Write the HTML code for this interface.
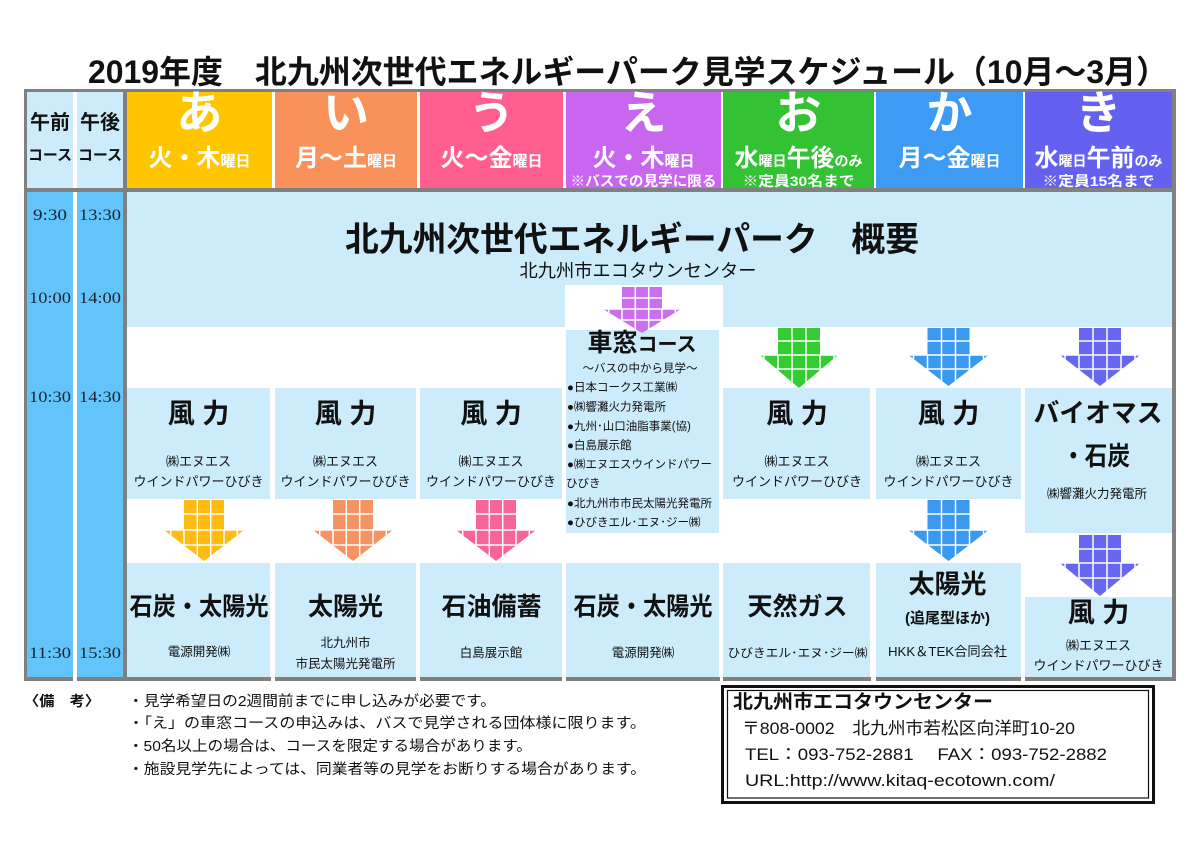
<!DOCTYPE html>
<html><head><meta charset="utf-8"><style>
html,body{margin:0;padding:0;background:#fff;}
svg{display:block;}
text{font-family:"Liberation Sans","Noto Sans CJK JP",sans-serif;fill:#111;}
.b{font-weight:bold;}
.w{fill:#fff;font-weight:bold;}
.t{font-family:"Liberation Serif","Noto Serif CJK SC",serif;font-size:16px;fill:#1a2230;}
</style></head><body>
<svg width="1200" height="842" viewBox="0 0 1200 842" xmlns="http://www.w3.org/2000/svg">
<rect width="1200" height="842" fill="#fff"/>
<!-- Title -->
<text x="88" y="83" font-size="32" class="b" textLength="1080" lengthAdjust="spacingAndGlyphs">2019年度　北九州次世代エネルギーパーク見学スケジュール（10月～3月）</text>

<!-- Frame -->
<rect x="24" y="89" width="1152" height="3" fill="#808080"/>
<rect x="24" y="89" width="3" height="592" fill="#808080"/>
<rect x="24" y="188" width="1152" height="4" fill="#808080"/>
<rect x="123" y="89" width="4" height="592" fill="#808080"/>
<rect x="1172" y="89" width="4" height="592" fill="#808080"/>
<g fill="#808080">
<rect x="24" y="677" width="49" height="4"/>
<rect x="77" y="677" width="50" height="4"/>
<rect x="127" y="677" width="144" height="4"/>
<rect x="275" y="677" width="141" height="4"/>
<rect x="420" y="677" width="142" height="4"/>
<rect x="566" y="677" width="154" height="4"/>
<rect x="723" y="677" width="148" height="4"/>
<rect x="876" y="677" width="145" height="4"/>
<rect x="1025" y="677" width="151" height="4"/>
</g>

<!-- Header cells -->
<rect x="27" y="92" width="46" height="96" fill="#CCECFC"/>
<rect x="77" y="92" width="46" height="96" fill="#CCECFC"/>
<rect x="127" y="92" width="145" height="96" fill="#FFC600"/>
<rect x="275" y="92" width="142" height="96" fill="#F8915A"/>
<rect x="420" y="92" width="143" height="96" fill="#FF5E8E"/>
<rect x="566" y="92" width="155" height="96" fill="#C966F0"/>
<rect x="723" y="92" width="151" height="96" fill="#33C233"/>
<rect x="876" y="92" width="147" height="96" fill="#3D9AF5"/>
<rect x="1025" y="92" width="147" height="96" fill="#6461F0"/>

<text x="50" y="129" font-size="20" class="b" text-anchor="middle">午前</text>
<text x="100" y="129" font-size="20" class="b" text-anchor="middle">午後</text>
<text x="50" y="160" font-size="15" class="b" text-anchor="middle" textLength="44" lengthAdjust="spacingAndGlyphs">コース</text>
<text x="100" y="160" font-size="15" class="b" text-anchor="middle" textLength="44" lengthAdjust="spacingAndGlyphs">コース</text>

<g font-size="46" text-anchor="middle">
<text x="199.5" y="129" class="w">あ</text>
<text x="346" y="129" class="w">い</text>
<text x="491.5" y="129" class="w">う</text>
<text x="643.5" y="129" class="w">え</text>
<text x="798.5" y="129" class="w">お</text>
<text x="949.5" y="129" class="w">か</text>
<text x="1098.5" y="129" class="w">き</text>
</g>
<g text-anchor="middle">
<text x="199.5" y="166" class="w"><tspan font-size="24">火・木</tspan><tspan font-size="15">曜日</tspan></text>
<text x="346" y="166" class="w"><tspan font-size="24">月～土</tspan><tspan font-size="15">曜日</tspan></text>
<text x="491.5" y="166" class="w"><tspan font-size="24">火～金</tspan><tspan font-size="15">曜日</tspan></text>
<text x="643.5" y="166" class="w"><tspan font-size="24">火・木</tspan><tspan font-size="15">曜日</tspan></text>
<text x="798.5" y="166" class="w"><tspan font-size="24">水</tspan><tspan font-size="14">曜日</tspan><tspan font-size="24">午後</tspan><tspan font-size="14">のみ</tspan></text>
<text x="949.5" y="166" class="w"><tspan font-size="24">月～金</tspan><tspan font-size="15">曜日</tspan></text>
<text x="1098.5" y="166" class="w"><tspan font-size="24">水</tspan><tspan font-size="14">曜日</tspan><tspan font-size="24">午前</tspan><tspan font-size="14">のみ</tspan></text>
<text x="643.5" y="186" font-size="14" class="w" textLength="146" lengthAdjust="spacingAndGlyphs">※バスでの見学に限る</text>
<text x="798.5" y="186" font-size="14" class="w" textLength="112" lengthAdjust="spacingAndGlyphs">※定員30名まで</text>
<text x="1098.5" y="186" font-size="14" class="w" textLength="112" lengthAdjust="spacingAndGlyphs">※定員15名まで</text>
</g>

<!-- Time columns -->
<rect x="27" y="192" width="46" height="485" fill="#62C4F8"/>
<rect x="77" y="192" width="46" height="485" fill="#62C4F8"/>
<g text-anchor="middle">
<text class="t" x="50" y="220" textLength="34" lengthAdjust="spacingAndGlyphs">9:30</text>
<text class="t" x="100" y="220" textLength="42" lengthAdjust="spacingAndGlyphs">13:30</text>
<text class="t" x="50" y="303" textLength="42" lengthAdjust="spacingAndGlyphs">10:00</text>
<text class="t" x="100" y="303" textLength="42" lengthAdjust="spacingAndGlyphs">14:00</text>
<text class="t" x="50" y="402" textLength="42" lengthAdjust="spacingAndGlyphs">10:30</text>
<text class="t" x="100" y="402" textLength="42" lengthAdjust="spacingAndGlyphs">14:30</text>
<text class="t" x="50" y="658" textLength="42" lengthAdjust="spacingAndGlyphs">11:30</text>
<text class="t" x="100" y="658" textLength="42" lengthAdjust="spacingAndGlyphs">15:30</text>
</g>

<!-- Body cells -->
<g fill="#CCECFC">
<rect x="127" y="192" width="1045" height="135"/>
<rect x="127" y="388" width="143" height="111"/>
<rect x="275" y="388" width="141" height="111"/>
<rect x="420" y="388" width="142" height="111"/>
<rect x="566" y="330" width="153" height="203"/>
<rect x="723" y="388" width="147" height="111"/>
<rect x="876" y="388" width="145" height="111"/>
<rect x="1025" y="388" width="147" height="145"/>
<rect x="127" y="563" width="143" height="114"/>
<rect x="275" y="563" width="141" height="114"/>
<rect x="420" y="563" width="142" height="114"/>
<rect x="566" y="563" width="153" height="114"/>
<rect x="723" y="563" width="147" height="114"/>
<rect x="876" y="563" width="145" height="114"/>
<rect x="1025" y="597" width="147" height="80"/>
</g>
<rect x="565" y="285" width="158" height="42" fill="#fff"/>

<!-- Overview -->
<text x="632" y="251" font-size="34" class="b" text-anchor="middle" textLength="574" lengthAdjust="spacingAndGlyphs">北九州次世代エネルギーパーク　概要</text>
<text x="638" y="277" font-size="18" text-anchor="middle" textLength="237" lengthAdjust="spacingAndGlyphs">北九州市エコタウンセンター</text>

<!-- Arrows -->
<defs>
<clipPath id="a1"><polygon points="622,287 662,287 662,309 681,309 642,333 603,309 622,309"/></clipPath>
<clipPath id="a2"><polygon points="778,328 820,328 820,355 838,355 799,388 760,355 778,355"/></clipPath>
<clipPath id="a3"><polygon points="927.5,328 969.5,328 969.5,355 988.5,355 948.5,386 908.5,355 927.5,355"/></clipPath>
<clipPath id="a4"><polygon points="1079,328 1121,328 1121,355 1140,355 1100,386 1060,355 1079,355"/></clipPath>
<clipPath id="a5"><polygon points="184,500 224,500 224,530 244,530 204,561 164,530 184,530"/></clipPath>
<clipPath id="a6"><polygon points="333,500 373,500 373,530 393,530 353,561 313,530 333,530"/></clipPath>
<clipPath id="a7"><polygon points="476,500 516,500 516,530 536,530 496,561 456,530 476,530"/></clipPath>
<clipPath id="a8"><polygon points="927.5,500 969.5,500 969.5,530 988.5,530 948.5,561 908.5,530 927.5,530"/></clipPath>
<clipPath id="a9"><polygon points="1079,535 1121,535 1121,563 1140,563 1100,596 1060,563 1079,563"/></clipPath>
</defs>
<g stroke="#fff" stroke-width="1.5">
<g clip-path="url(#a1)"><rect x="600" y="285" width="85" height="50" fill="#CC6FEF" stroke="none"/>
<path d="M635.3 285V335M648.7 285V335M622 309V335M662 309V335M608.7 309V335M675.3 309V335M600 298H685M600 309H685M600 320H685"/></g>
<g clip-path="url(#a2)"><rect x="755" y="325" width="90" height="65" fill="#33CC33" stroke="none"/>
<path d="M792 325V390M806 325V390M778 355V390M820 355V390M764 355V390M834 355V390M755 341H845M755 355H845M755 369H845"/></g>
<g clip-path="url(#a3)"><rect x="905" y="325" width="90" height="65" fill="#3A98EE" stroke="none"/>
<path d="M941.5 325V390M955.5 325V390M927.5 355V390M969.5 355V390M913.5 355V390M983.5 355V390M905 341H995M905 355H995M905 369H995"/></g>
<g clip-path="url(#a4)"><rect x="1055" y="325" width="90" height="65" fill="#6666EE" stroke="none"/>
<path d="M1093 325V390M1107 325V390M1079 355V390M1121 355V390M1065 355V390M1135 355V390M1055 341H1145M1055 355H1145M1055 369H1145"/></g>
<g clip-path="url(#a5)"><rect x="160" y="498" width="90" height="65" fill="#FFBB11" stroke="none"/>
<path d="M197.3 498V563M210.7 498V563M184 530V563M224 530V563M170.7 530V563M237.3 530V563M160 514H250M160 530H250M160 545H250"/></g>
<g clip-path="url(#a6)"><rect x="310" y="498" width="90" height="65" fill="#F79262" stroke="none"/>
<path d="M346.3 498V563M359.7 498V563M333 530V563M373 530V563M319.7 530V563M386.3 530V563M310 514H400M310 530H400M310 545H400"/></g>
<g clip-path="url(#a7)"><rect x="450" y="498" width="90" height="65" fill="#F76496" stroke="none"/>
<path d="M489.3 498V563M502.7 498V563M476 530V563M516 530V563M462.7 530V563M529.3 530V563M450 514H540M450 530H540M450 545H540"/></g>
<g clip-path="url(#a8)"><rect x="905" y="498" width="90" height="65" fill="#3A98EE" stroke="none"/>
<path d="M941.5 498V563M955.5 498V563M927.5 530V563M969.5 530V563M913.5 530V563M983.5 530V563M905 514H995M905 530H995M905 545H995"/></g>
<g clip-path="url(#a9)"><rect x="1055" y="532" width="90" height="66" fill="#6666EE" stroke="none"/>
<path d="M1093 532V598M1107 532V598M1079 563V598M1121 563V598M1065 563V598M1135 563V598M1055 549H1145M1055 563H1145M1055 578H1145"/></g>
</g>

<!-- Row 1 text -->
<g text-anchor="middle">
<text x="198.5" y="423" font-size="27" class="b">風 力</text>
<text x="198.5" y="466" font-size="13">㈱エヌエス</text>
<text x="198.5" y="486" font-size="13">ウインドパワーひびき</text>
<text x="345.5" y="423" font-size="27" class="b">風 力</text>
<text x="345.5" y="466" font-size="13">㈱エヌエス</text>
<text x="345.5" y="486" font-size="13">ウインドパワーひびき</text>
<text x="491" y="423" font-size="27" class="b">風 力</text>
<text x="491" y="466" font-size="13">㈱エヌエス</text>
<text x="491" y="486" font-size="13">ウインドパワーひびき</text>
<text x="797" y="423" font-size="27" class="b">風 力</text>
<text x="797" y="466" font-size="13">㈱エヌエス</text>
<text x="797" y="486" font-size="13">ウインドパワーひびき</text>
<text x="948.5" y="423" font-size="27" class="b">風 力</text>
<text x="948.5" y="466" font-size="13">㈱エヌエス</text>
<text x="948.5" y="486" font-size="13">ウインドパワーひびき</text>
<text x="1098" y="422" font-size="26" class="b" textLength="129" lengthAdjust="spacingAndGlyphs">バイオマス</text>
<text x="1096" y="465" font-size="26" class="b" textLength="68" lengthAdjust="spacingAndGlyphs">・石炭</text>
<text x="1097" y="498" font-size="12.5">㈱響灘火力発電所</text>

<!-- 車窓 -->
<text x="642" y="351" class="b"><tspan font-size="25">車窓</tspan><tspan font-size="20">コース</tspan></text>
<text x="640" y="372" font-size="11.5">～バスの中から見学～</text>
</g>
<g font-size="11.5">
<text x="567" y="391">●日本コークス工業㈱</text>
<text x="567" y="410.5">●㈱響灘火力発電所</text>
<text x="567" y="430">●九州･山口油脂事業(協)</text>
<text x="567" y="449">●白島展示館</text>
<text x="567" y="468">●㈱エヌエスウインドパワー</text>
<text x="566" y="487">ひびき</text>
<text x="567" y="507">●北九州市市民太陽光発電所</text>
<text x="567" y="526">●ひびきエル･エヌ･ジー㈱</text>
</g>

<!-- Row 2 text -->
<g text-anchor="middle">
<text x="199" y="615" font-size="25" class="b" textLength="139" lengthAdjust="spacingAndGlyphs">石炭・太陽光</text>
<text x="199" y="656" font-size="12.5">電源開発㈱</text>
<text x="345.5" y="615" font-size="25" class="b">太陽光</text>
<text x="345.5" y="647" font-size="12.5">北九州市</text>
<text x="345.5" y="668" font-size="12.5">市民太陽光発電所</text>
<text x="491.5" y="615" font-size="25" class="b">石油備蓄</text>
<text x="491" y="657" font-size="12.5">白島展示館</text>
<text x="643" y="615" font-size="25" class="b" textLength="139" lengthAdjust="spacingAndGlyphs">石炭・太陽光</text>
<text x="643" y="657" font-size="12.5">電源開発㈱</text>
<text x="797.5" y="615" font-size="25" class="b">天然ガス</text>
<text x="797.5" y="657" font-size="12" textLength="140" lengthAdjust="spacingAndGlyphs">ひびきエル･エヌ･ジー㈱</text>
<text x="947.5" y="593" font-size="26" class="b">太陽光</text>
<text x="947.5" y="623" font-size="15" class="b">(追尾型ほか)</text>
<text x="947.5" y="656" font-size="13" textLength="119" lengthAdjust="spacingAndGlyphs">HKK＆TEK合同会社</text>
<text x="1098.5" y="622" font-size="27" class="b">風 力</text>
<text x="1098.5" y="650" font-size="13">㈱エヌエス</text>
<text x="1098.5" y="670" font-size="13">ウインドパワーひびき</text>
</g>

<!-- Notes -->
<text x="24" y="706" font-size="14" class="b" textLength="76" lengthAdjust="spacingAndGlyphs">〈備　考〉</text>
<g font-size="14.5">
<text x="128" y="706" textLength="368" lengthAdjust="spacingAndGlyphs">・見学希望日の2週間前までに申し込みが必要です。</text>
<text x="128" y="728" textLength="518" lengthAdjust="spacingAndGlyphs">・「え」の車窓コースの申込みは、バスで見学される団体様に限ります。</text>
<text x="128" y="751" textLength="404" lengthAdjust="spacingAndGlyphs">・50名以上の場合は、コースを限定する場合があります。</text>
<text x="128" y="774" textLength="518" lengthAdjust="spacingAndGlyphs">・施設見学先によっては、同業者等の見学をお断りする場合があります。</text>
</g>

<!-- Info box -->
<rect x="722.5" y="686.5" width="431" height="116" fill="none" stroke="#111" stroke-width="3"/>
<rect x="727.5" y="690.5" width="421" height="107.5" fill="none" stroke="#111" stroke-width="1.2"/>
<text x="733" y="708" font-size="19" class="b" textLength="260" lengthAdjust="spacingAndGlyphs">北九州市エコタウンセンター</text>
<text x="742" y="734" font-size="17" textLength="333" lengthAdjust="spacingAndGlyphs">〒808-0002　北九州市若松区向洋町10-20</text>
<text x="745" y="760" font-size="17" textLength="362" lengthAdjust="spacingAndGlyphs">TEL：093-752-2881　 FAX：093-752-2882</text>
<text x="745" y="786" font-size="17" textLength="310" lengthAdjust="spacingAndGlyphs">URL:http://www.kitaq-ecotown.com/</text>
</svg>
</body></html>
